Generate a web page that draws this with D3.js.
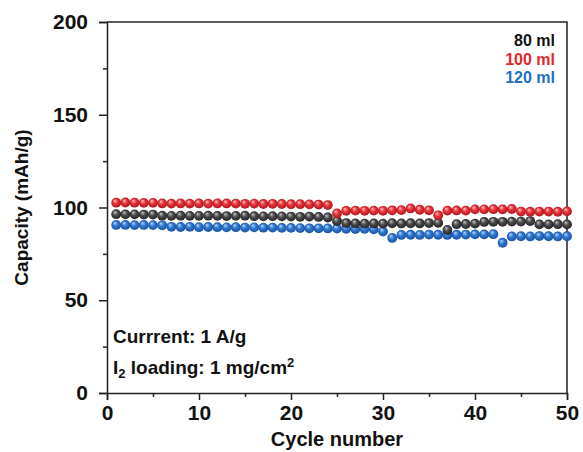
<!DOCTYPE html>
<html>
<head>
<meta charset="utf-8">
<script src="https://cdn.jsdelivr.net/npm/d3@7"></script>
<style>
    body { margin: 0; background: #fff; }
    text { font-family: "Liberation Sans", Arial, sans-serif; font-weight: bold; }
</style>
</head>
<body>
<div id="chart"></div>
<script>
// cycle numbers
var cycles = [1, 2, 3, 4, 5, 6, 7, 8, 9, 10, 11, 12, 13, 14, 15, 16, 17, 18, 19, 20,
    21, 22, 23, 24, 25, 26, 27, 28, 29, 30, 31, 32, 33, 34, 35, 36, 37, 38, 39, 40,
    41, 42, 43, 44, 45, 46, 47, 48, 49, 50];

// capacity (mAh/g)
var cap80 = [96.4, 96.3, 96.3, 96.2, 96.2, 95.6, 95.5, 95.6, 95.5, 95.5,
    95.6, 95.5, 95.4, 95.5, 95.6, 95.3, 95.2, 95.3, 95.2, 95.1,
    95.0, 95.1, 94.9, 94.6, 92.7, 91.6, 91.4, 91.3, 91.4, 91.3,
    91.5, 91.4, 91.5, 91.4, 91.6, 91.7, 87.9, 91.0, 91.1, 91.3,
    92.2, 92.3, 92.3, 92.4, 92.4, 92.7, 90.9, 90.9, 91.0, 90.9];
var cap100 = [102.6, 102.7, 102.6, 102.5, 102.5, 102.2, 102.1, 102.2, 102.1, 102.2,
    102.1, 102.2, 102.2, 102.1, 102.0, 102.1, 101.9, 102.0, 101.9, 101.8,
    101.8, 101.7, 101.6, 101.3, 96.8, 98.2, 98.3, 98.2, 98.3, 98.2,
    98.5, 98.6, 99.5, 98.8, 98.5, 95.8, 98.3, 98.4, 98.3, 99.0,
    99.0, 99.1, 99.0, 99.2, 97.8, 97.7, 97.8, 97.8, 97.7, 97.9];
var cap120 = [90.6, 90.6, 90.5, 90.6, 90.5, 90.4, 89.6, 89.5, 89.6, 89.4,
    89.5, 89.4, 89.3, 89.4, 89.2, 89.3, 89.1, 89.2, 89.0, 89.0,
    88.9, 88.8, 88.8, 88.7, 88.6, 88.5, 88.4, 88.5, 88.2, 87.0,
    83.6, 85.2, 85.3, 85.2, 85.4, 85.3, 85.2, 85.3, 85.4, 85.5,
    85.5, 85.6, 81.0, 84.4, 84.5, 84.4, 84.6, 84.5, 84.4, 84.5];

var seriesNames = ["80 ml", "100 ml", "120 ml"];
var xTicks = [0, 10, 20, 30, 40, 50];
var yTicks = [0, 50, 100, 150, 200];

var width = 583;
var height = 452;
var margin = {top: 22, right: 16, bottom: 59, left: 107};

var x = d3.scaleLinear().domain([0, 50]).range([margin.left, width - margin.right]);
var y = d3.scaleLinear().domain([0, 200]).range([height - margin.bottom, margin.top]);

var svg = d3.select("#chart")
    .append("svg")
    .attr("width", width)
    .attr("height", height);

// sphere-like gradients for the markers
var palette = {
    "80 ml":  {hi: "#c8c8c8", mid: "#4d4d4d", lo: "#1e1e1e", text: "#111111"},
    "100 ml": {hi: "#ffc4c4", mid: "#e8343a", lo: "#a8121a", text: "#e3262c"},
    "120 ml": {hi: "#bcd9ff", mid: "#2f78d2", lo: "#174d98", text: "#1f6fbe"}
};
var defs = svg.append("defs");
seriesNames.forEach(function(name, i) {
    var g = defs.append("radialGradient")
        .attr("id", "ball" + i)
        .attr("cx", "50%").attr("cy", "50%").attr("r", "55%")
        .attr("fx", "35%").attr("fy", "28%");
    g.append("stop").attr("offset", "0%").attr("stop-color", palette[name].hi);
    g.append("stop").attr("offset", "45%").attr("stop-color", palette[name].mid);
    g.append("stop").attr("offset", "100%").attr("stop-color", palette[name].lo);
});

// axes
var xAxis = svg.append("g")
    .attr("transform", "translate(0," + y(0) + ")")
    .call(d3.axisBottom(x).tickValues(xTicks).tickSize(7).tickPadding(5));
svg.append("g")
    .attr("transform", "translate(0," + y(0) + ")")
    .call(d3.axisBottom(x).tickValues([5, 15, 25, 35, 45]).tickSize(4).tickFormat(""))
    .select(".domain").remove();

var yAxis = svg.append("g")
    .attr("transform", "translate(" + x(0) + ",0)")
    .call(d3.axisLeft(y).tickValues(yTicks).tickSize(8).tickPadding(11));
svg.append("g")
    .attr("transform", "translate(" + x(0) + ",0)")
    .call(d3.axisLeft(y).tickValues([25, 75, 125, 175]).tickSize(4).tickFormat(""))
    .select(".domain").remove();

svg.selectAll(".domain, .tick line")
    .attr("stroke", "#222")
    .attr("stroke-width", 1.5);
xAxis.selectAll("text").attr("font-size", 21).attr("fill", "#111");
yAxis.selectAll("text").attr("font-size", 21).attr("fill", "#111");

// top and right border
svg.append("path")
    .attr("d", "M" + x(0) + "," + y(200) + "H" + x(50) + "V" + y(0))
    .attr("fill", "none")
    .attr("stroke", "#222")
    .attr("stroke-width", 1.5);

// markers: blue first, then black, red on top
var series = [
    {name: "120 ml", values: cap120, grad: 2},
    {name: "80 ml", values: cap80, grad: 0},
    {name: "100 ml", values: cap100, grad: 1}
];
series.forEach(function(s) {
    svg.append("g")
        .selectAll("circle")
        .data(s.values)
        .enter()
        .append("circle")
        .attr("cx", function(d, i) { return x(cycles[i]); })
        .attr("cy", function(d) { return y(d); })
        .attr("r", 4.9)
        .attr("fill", "url(#ball" + s.grad + ")");
});

// legend
seriesNames.forEach(function(name, i) {
    svg.append("text")
        .attr("x", 555)
        .attr("y", 46 + i * 18.5)
        .attr("text-anchor", "end")
        .attr("font-size", 16)
        .attr("fill", palette[name].text)
        .text(name);
});

// notes
svg.append("text")
    .attr("x", 113)
    .attr("y", 343)
    .attr("font-size", 19)
    .attr("fill", "#111")
    .text("Currrent: 1 A/g");
var note = svg.append("text")
    .attr("x", 113)
    .attr("y", 374)
    .attr("font-size", 19)
    .attr("fill", "#111");
note.append("tspan").text("I");
note.append("tspan").attr("font-size", 13).attr("dy", 4).text("2");
note.append("tspan").attr("dy", -4).text(" loading: 1 mg/cm");
note.append("tspan").attr("font-size", 13).attr("dy", -7).text("2");

// axis titles
svg.append("text")
    .attr("x", (x(0) + x(50)) / 2)
    .attr("y", 446)
    .attr("text-anchor", "middle")
    .attr("font-size", 20)
    .attr("fill", "#111")
    .text("Cycle number");
svg.append("text")
    .attr("transform", "translate(28," + ((y(0) + y(200)) / 2) + ") rotate(-90)")
    .attr("text-anchor", "middle")
    .attr("font-size", 19)
    .attr("fill", "#111")
    .text("Capacity (mAh/g)");
</script>
</body>
</html>
